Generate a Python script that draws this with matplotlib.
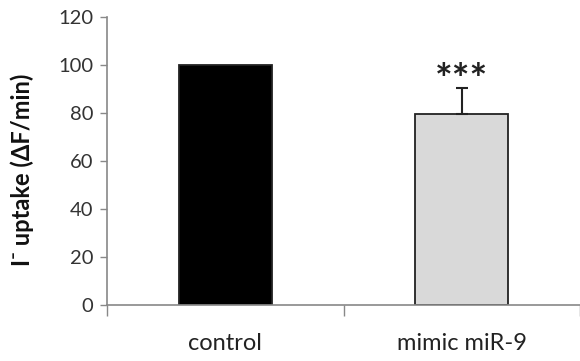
import matplotlib
matplotlib.use("Agg")
import matplotlib.pyplot as plt

categories = ["control", "mimic miR-9"]
values = [100, 79.6]
errors_up = [0, 10.8]
significance = ["", "***"]
bar_colors = ["#000000", "#d9d9d9"]
yticks = [0, 20, 40, 60, 80, 100, 120]

plt.rcParams['font.family'] = ['Lato', 'DejaVu Sans']

fig = plt.figure(figsize=(5.8, 3.61), dpi=100)
ax = fig.add_axes([0.1845, 0.155, 0.8155, 0.798])

x = list(range(len(categories)))
ax.bar(x, values, width=0.395, color=bar_colors, edgecolor="#222222", linewidth=1.3, zorder=2)
for i, (v, e) in enumerate(zip(values, errors_up)):
    if e > 0:
        ax.errorbar(i, v, yerr=[[0], [e]], fmt='none', ecolor="#222222", elinewidth=1.5,
                    capsize=4, capthick=1.5, zorder=3)
    if significance[i]:
        ax.annotate(significance[i], xy=(i, v + e), xytext=(0, -9), textcoords='offset points',
                    ha='center', va='bottom', fontsize=30, fontweight='bold', color="#222222")

ax.set_xlim(-0.5, 1.5)
ax.set_ylim(0, 120)
ax.set_yticks(yticks)
ax.set_yticklabels([str(t) for t in yticks], fontsize=14.5, color="#333333")
ax.set_xticks([-0.5, 0.5, 1.5])
ax.set_xticklabels([])
ax.set_xticks(x, minor=True)
ax.set_xticklabels(categories, minor=True, fontsize=17, color="#222222")
ax.tick_params(axis='x', which='minor', length=0, pad=20)
ax.tick_params(axis='x', which='major', length=8, color="#888888", width=1)
ax.tick_params(axis='y', length=5, color="#888888", width=1, pad=5)

for s in ["top", "right"]:
    ax.spines[s].set_visible(False)
for s in ["left", "bottom"]:
    ax.spines[s].set_color("#888888")
    ax.spines[s].set_linewidth(1.2)

ax.set_ylabel("I\u207b uptake (\u0394F/min)", fontsize=17, fontweight='bold', color="#111111", labelpad=8)
ax.yaxis.set_label_coords(-0.155, 0.47)

fig.savefig("out.png", dpi=100)
